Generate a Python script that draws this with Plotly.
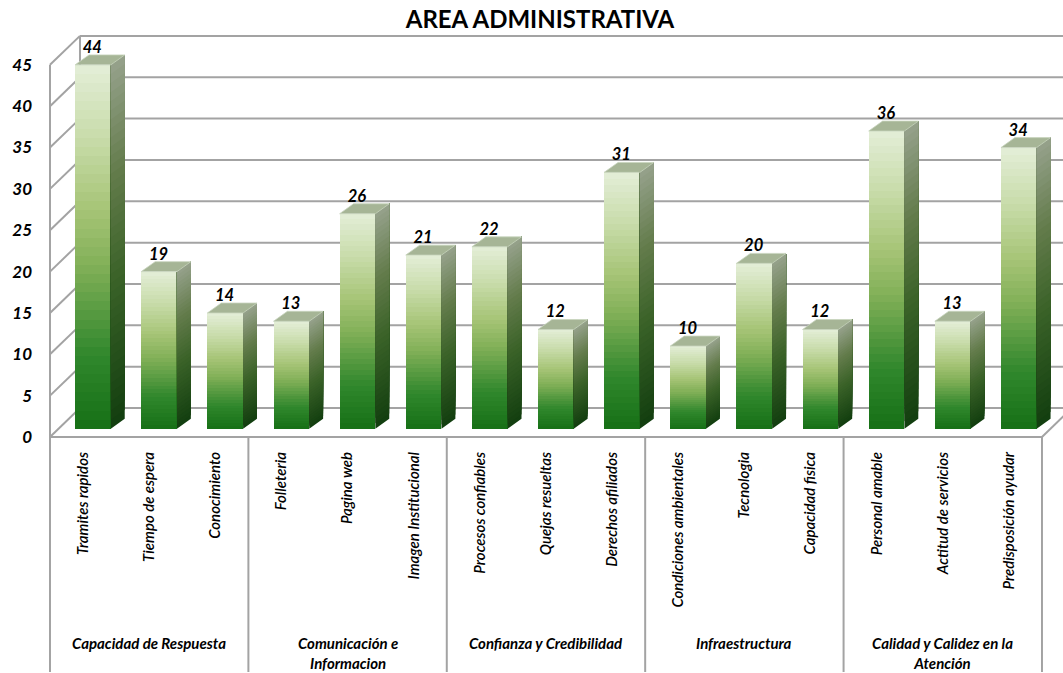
import plotly.graph_objects as go

# ---------------- data ----------------
groups = (["Capacidad de Respuesta"] * 3
          + ["Comunicación e<br>Informacion"] * 3
          + ["Confianza y Credibilidad"] * 3
          + ["Infraestructura"] * 3
          + ["Calidad y Calidez en la<br>Atención"] * 3)
categories = ["Tramites rapidos", "Tiempo de espera", "Conocimiento",
              "Folleteria", "Pagina web", "Imagen Institucional",
              "Procesos confiables", "Quejas resueltas", "Derechos afiliados",
              "Condiciones ambientales", "Tecnologia", "Capacidad fisica",
              "Personal amable", "Actitud de servicios", "Predisposición ayudar"]
values = [44, 19, 14, 13, 26, 21, 22, 12, 31, 10, 20, 12, 36, 13, 34]
y_ticks = [0, 5, 10, 15, 20, 25, 30, 35, 40, 45]
title_text = "AREA ADMINISTRATIVA"

# ---------------- geometry / style ----------------
W, H = 1063, 673
M_L, M_R, M_T, M_B = 49, 0, 33, 235
n = len(values)
idx = list(range(n))
X_LO, X_HI = -0.515, n - 0.5 + 0.318
Y_LO, Y_HI = -0.121, 48.85
WALL_DX, WALL_DY = 0.4536, 3.5        # depth of the 3D box
BAR_OFF, BAR_W, BAR_BASE = -0.12, 0.54, 1.0
SIDE_DX, SIDE_DY = 0.21, 1.2
N = 40
FONT = "Lato"
GRID = "#a3a3a3"
plot_h = H - M_T - M_B

front_stops = [(0.0, (22, 112, 22)), (0.2, (48, 135, 44)), (0.45, (130, 176, 88)),
               (0.6, (166, 196, 118)), (0.8, (200, 220, 170)), (1.0, (228, 238, 216))]
side_stops = [(0.0, (18, 62, 15)), (0.4, (58, 98, 40)), (0.7, (100, 124, 76)),
              (1.0, (150, 162, 140))]


def grad(stops, f):
    for (f0, c0), (f1, c1) in zip(stops[:-1], stops[1:]):
        if f <= f1:
            t = (f - f0) / (f1 - f0)
            return "rgb(%d,%d,%d)" % tuple(round(a + (b - a) * t) for a, b in zip(c0, c1))
    return "rgb(%d,%d,%d)" % stops[-1][1]


fig = go.Figure()

# front faces (gradient by overlapping strips)
for k in range(N):
    fig.add_trace(go.Bar(
        x=idx, y=[v * (N - k) / N for v in values],
        base=[BAR_BASE + v * k / N for v in values],
        width=BAR_W, offset=BAR_OFF,
        marker=dict(color=grad(front_stops, (k + 0.5) / N), line=dict(width=0)),
        hoverinfo="skip", showlegend=False))

# side faces
for k in range(N):
    xs, ys = [], []
    for i, v in zip(idx, values):
        xr = i + BAR_OFF + BAR_W
        y0 = BAR_BASE + v * k / N
        y1 = BAR_BASE + v
        xs += [xr, xr + SIDE_DX, xr + SIDE_DX, xr, xr, None]
        ys += [y0, y0 + SIDE_DY, y1 + SIDE_DY, y1, y0, None]
    fig.add_trace(go.Scatter(
        x=xs, y=ys, mode="lines", fill="toself",
        fillcolor=grad(side_stops, (k + 0.5) / N), line=dict(width=0),
        hoverinfo="skip", showlegend=False))

# top faces
xs, ys = [], []
for i, v in zip(idx, values):
    xl = i + BAR_OFF
    xr = xl + BAR_W
    t = BAR_BASE + v
    xs += [xl, xl + SIDE_DX, xr + SIDE_DX, xr, xl, None]
    ys += [t, t + SIDE_DY, t + SIDE_DY, t, t, None]
fig.add_trace(go.Scatter(
    x=xs, y=ys, mode="lines", fill="toself", fillcolor="rgb(166,181,150)",
    line=dict(width=0.8, color="rgb(200,212,190)"),
    hoverinfo="skip", showlegend=False))

# value labels
fig.add_trace(go.Scatter(
    x=[i + BAR_OFF + BAR_W / 2 - 0.01 for i in idx],
    y=[v + BAR_BASE + 1.95 for v in values],
    mode="text", text=[str(v) for v in values], textposition="middle center",
    textfont=dict(family=FONT, size=16.5, color="black", weight="bold", style="italic"),
    cliponaxis=False, hoverinfo="skip", showlegend=False))

# 3D box: back-wall grid lines, left wall, floor
shapes = []
line = dict(color=GRID, width=2)
for v in y_ticks:
    shapes.append(dict(type="line", xref="x", yref="y", layer="below",
                       x0=-0.5 + WALL_DX, y0=v + WALL_DY, x1=X_HI + 1, y1=v + WALL_DY, line=line))
    shapes.append(dict(type="line", xref="x", yref="y", layer="below",
                       x0=-0.5, y0=v, x1=-0.5 + WALL_DX, y1=v + WALL_DY, line=line))
shapes.append(dict(type="line", xref="x", yref="y", layer="below",
                   x0=-0.5, y0=0, x1=-0.5, y1=y_ticks[-1], line=line))
shapes.append(dict(type="line", xref="x", yref="y", layer="below",
                   x0=-0.5 + WALL_DX, y0=WALL_DY, x1=-0.5 + WALL_DX, y1=y_ticks[-1] + WALL_DY, line=line))
shapes.append(dict(type="line", xref="x", yref="y", layer="below",
                   x0=-0.5, y0=0, x1=n - 0.5, y1=0, line=line))
shapes.append(dict(type="line", xref="x", yref="y", layer="below",
                   x0=n - 0.5, y0=0, x1=n - 0.5 + WALL_DX, y1=WALL_DY, line=line))

# category table: group dividers and group labels
bottom_paper = -(M_B - 1) / plot_h
zero_paper = (0 - Y_LO) / (Y_HI - Y_LO)
annotations = []
start = 0
for i in range(1, n + 1):
    if i == n or groups[i] != groups[start]:
        shapes.append(dict(type="line", xref="x", yref="paper",
                           x0=start - 0.5, x1=start - 0.5, y0=zero_paper, y1=bottom_paper,
                           line=line))
        annotations.append(dict(
            x=(start + i - 1) / 2, xref="x", y=-(632 - (H - M_B)) / plot_h, yref="paper",
            yanchor="top", xanchor="center", showarrow=False, text=groups[start],
            font=dict(family=FONT, size=15, color="black", weight="bold", style="italic")))
        start = i
shapes.append(dict(type="line", xref="x", yref="paper",
                   x0=n - 0.5, x1=n - 0.5, y0=zero_paper, y1=bottom_paper, line=line))

fig.update_layout(
    width=W, height=H,
    margin=dict(l=M_L, r=M_R, t=M_T, b=M_B),
    paper_bgcolor="white", plot_bgcolor="white",
    barmode="overlay", bargap=0,
    title=dict(text=title_text, x=0.508, xanchor="center", y=1 - 20 / H, yanchor="middle",
               font=dict(family=FONT, size=24, color="black", weight="bold")),
    xaxis=dict(range=[X_LO, X_HI], tickvals=idx, ticktext=categories, tickangle=-90,
               showgrid=False, showline=False, zeroline=False, ticks="",
               ticklabelstandoff=10, fixedrange=True,
               tickfont=dict(family=FONT, size=15, color="black", weight=600, style="italic")),
    yaxis=dict(range=[Y_LO, Y_HI], tickvals=y_ticks, showgrid=False, zeroline=False,
               showline=False, ticks="", ticklabelstandoff=16, fixedrange=True,
               tickfont=dict(family=FONT, size=17, color="black", weight="bold", style="italic")),
    shapes=shapes,
    annotations=annotations,
)

fig.write_html("out.html", config={"displayModeBar": False},
               post_script="document.body.style.margin='0';")
